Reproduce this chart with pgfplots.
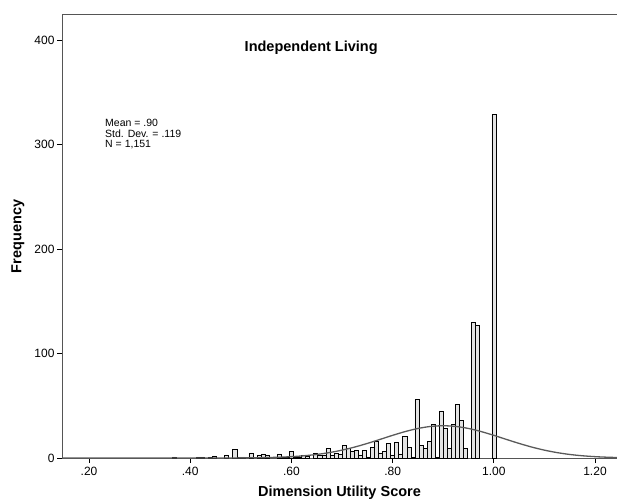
\documentclass[border=0pt]{standalone}
\usepackage{pgfplots}
\pgfplotsset{compat=1.18}
\usepackage{fontspec}
\setmainfont{Liberation Sans}
\definecolor{framegray}{HTML}{555555}
\definecolor{curvegray}{HTML}{5A5A5A}
\begin{document}
\begin{tikzpicture}
\begin{axis}[
  scale only axis,
  width=555pt, height=443pt,
  xmin=0.1466, xmax=1.2435,
  ymin=0, ymax=424,
  axis x line*=box,
  axis y line*=left,
  axis line style={framegray, line width=1pt},
  xtick={0.2,0.4,0.6,0.8,1.0,1.2},
  xticklabels={.20,.40,.60,.80,1.00,1.20},
  ytick={0,100,200,300,400},
  yticklabels={0,100,200,300,400},
  xtick pos=bottom,
  ytick pos=left,
  tick align=outside,
  major tick length=5pt,
  tick style={black, line width=0.8pt},
  ticklabel style={font=\fontsize{12}{13}\selectfont},
  xticklabel style={anchor=center, yshift=-8pt},
  yticklabel style={anchor=east, xshift=1pt},
  xlabel={\textbf{Dimension Utility Score}},
  ylabel={\textbf{Frequency}},
  label style={font=\fontsize{14.5}{16}\selectfont},
  xlabel style={at={(axis description cs:0.5,-0.079)}, anchor=center},
  ylabel style={at={(axis description cs:-0.0795,0.5)}, anchor=center},
  clip=false,
]
\addplot[ybar, bar width=0.008, bar shift=0pt, draw=black, line width=0.5pt, fill=gray!22]
coordinates {
(1.000,329) (0.968,127) (0.960,130) (0.944,9) (0.936,36) (0.928,51) (0.920,32)
(0.912,9) (0.904,28) (0.896,45) (0.888,1) (0.880,32) (0.872,16) (0.864,9)
(0.856,12) (0.848,56) (0.840,1) (0.832,10) (0.824,21) (0.816,4) (0.808,15)
(0.800,3) (0.792,14) (0.784,6) (0.776,5) (0.768,16) (0.760,10) (0.752,1)
(0.744,7) (0.736,3) (0.728,7) (0.720,6) (0.712,9) (0.704,12) (0.696,4)
(0.688,5) (0.680,3) (0.672,9) (0.664,3) (0.656,3) (0.648,5) (0.632,2)
(0.624,3) (0.616,1) (0.608,1) (0.600,6) (0.592,1) (0.584,1) (0.576,4)
(0.552,3) (0.544,4) (0.536,3) (0.520,5) (0.504,1) (0.496,1) (0.488,8)
(0.472,3) (0.448,2) (0.440,1) (0.424,1) (0.416,1) (0.368,1)
};
\addplot[smooth, curvegray, line width=1.3pt] coordinates {
(0.1466,0) (0.30,0.0001) (0.40,0.0045) (0.45,0.024) (0.50,0.109) (0.525,0.215)
(0.55,0.408) (0.575,0.741) (0.60,1.286) (0.625,2.14) (0.65,3.40) (0.675,5.17)
(0.70,7.52) (0.725,10.47) (0.75,13.95) (0.775,17.78) (0.80,21.69) (0.825,25.31)
(0.85,28.26) (0.875,30.20) (0.90,30.87) (0.925,30.20) (0.95,28.26) (0.975,25.31)
(1.00,21.69) (1.025,17.78) (1.05,13.95) (1.075,10.47) (1.10,7.52) (1.125,5.17)
(1.15,3.40) (1.175,2.14) (1.20,1.286) (1.225,0.741) (1.2435,0.47)
};
\node[font=\bfseries\fontsize{14.5}{16}\selectfont] at (rel axis cs:0.449,0.925) {Independent Living};
\node[anchor=north west, align=left, font=\fontsize{10.5}{10.5}\selectfont, inner sep=0pt]
  at (rel axis cs:0.0775,0.765) {Mean = .90\\Std. Dev. = .119\\N = 1,151};
\end{axis}
\pgfresetboundingbox
\path (-62pt,-45pt) rectangle (555pt,458pt);
\end{tikzpicture}
\end{document}
